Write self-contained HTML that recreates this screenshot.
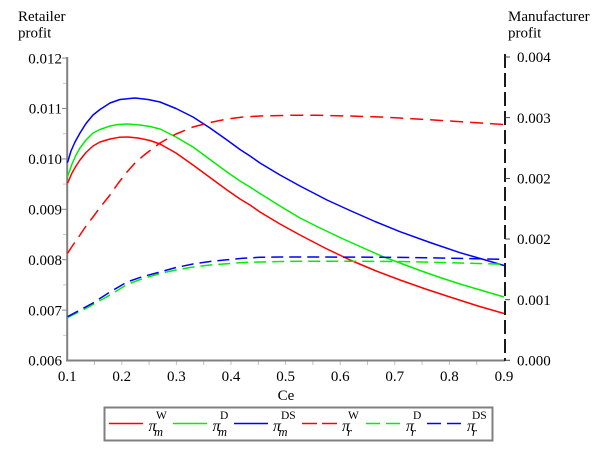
<!DOCTYPE html>
<html>
<head>
<meta charset="utf-8">
<style>
  html,body{margin:0;padding:0;background:#fff;}
  svg{display:block;}
  text{font-family:"Liberation Serif","DejaVu Serif",serif;fill:#000;}
</style>
</head>
<body>
<svg width="600" height="450" viewBox="0 0 600 450" xmlns="http://www.w3.org/2000/svg">
  <rect x="0" y="0" width="600" height="450" fill="#fff"/>

  <!-- axis titles -->
  <text x="18" y="21" font-size="15">Retailer</text>
  <text x="18" y="37.5" font-size="15">profit</text>
  <text x="508" y="21" font-size="15">Manufacturer</text>
  <text x="508" y="37.5" font-size="15">profit</text>

  <!-- left axis minor ticks -->
  <g stroke="#c8c8c8" stroke-width="1">
    <line x1="63" y1="83.3" x2="67" y2="83.3"/>
    <line x1="63" y1="133.7" x2="67" y2="133.7"/>
    <line x1="63" y1="184.1" x2="67" y2="184.1"/>
    <line x1="63" y1="234.5" x2="67" y2="234.5"/>
    <line x1="63" y1="284.9" x2="67" y2="284.9"/>
    <line x1="63" y1="335.3" x2="67" y2="335.3"/>
  </g>
  <!-- left axis major ticks -->
  <g stroke="#8a8a8a" stroke-width="1">
    <line x1="62" y1="58.1" x2="67" y2="58.1"/>
    <line x1="62" y1="108.5" x2="67" y2="108.5"/>
    <line x1="62" y1="158.9" x2="67" y2="158.9"/>
    <line x1="62" y1="209.3" x2="67" y2="209.3"/>
    <line x1="62" y1="259.7" x2="67" y2="259.7"/>
    <line x1="62" y1="310.1" x2="67" y2="310.1"/>
  </g>
  <!-- bottom ticks -->
  <g stroke="#c0c0c0" stroke-width="1">
    <line x1="94.5" y1="361" x2="94.5" y2="365"/>
    <line x1="121.8" y1="361" x2="121.8" y2="365"/>
    <line x1="149.1" y1="361" x2="149.1" y2="365"/>
    <line x1="176.4" y1="361" x2="176.4" y2="365"/>
    <line x1="203.7" y1="361" x2="203.7" y2="365"/>
    <line x1="231" y1="361" x2="231" y2="365"/>
    <line x1="258.3" y1="361" x2="258.3" y2="365"/>
    <line x1="285.6" y1="361" x2="285.6" y2="365"/>
    <line x1="312.9" y1="361" x2="312.9" y2="365"/>
    <line x1="340.2" y1="361" x2="340.2" y2="365"/>
    <line x1="367.5" y1="361" x2="367.5" y2="365"/>
    <line x1="394.8" y1="361" x2="394.8" y2="365"/>
    <line x1="422.1" y1="361" x2="422.1" y2="365"/>
    <line x1="449.4" y1="361" x2="449.4" y2="365"/>
    <line x1="476.7" y1="361" x2="476.7" y2="365"/>
  </g>

  <!-- left & bottom axes -->
  <line x1="67.2" y1="57" x2="67.2" y2="361.5" stroke="#808080" stroke-width="2"/>
  <line x1="66.2" y1="360.5" x2="505" y2="360.5" stroke="#808080" stroke-width="2"/>

  <!-- right axis -->
  <line x1="505" y1="54" x2="505" y2="361" stroke="#1a1a1a" stroke-width="2" stroke-dasharray="14 5"/>
  <g stroke="#444" stroke-width="1">
    <line x1="505" y1="57" x2="510" y2="57"/>
    <line x1="505" y1="117.6" x2="510" y2="117.6"/>
    <line x1="505" y1="178.5" x2="510" y2="178.5"/>
    <line x1="505" y1="239" x2="510" y2="239"/>
    <line x1="505" y1="299.7" x2="510" y2="299.7"/>
    <line x1="505" y1="360.3" x2="510" y2="360.3"/>
  </g>

  <!-- left tick labels -->
  <g font-size="15" text-anchor="end">
    <text x="62" y="63.3">0.012</text>
    <text x="62" y="113.7">0.011</text>
    <text x="62" y="164.1">0.010</text>
    <text x="62" y="214.5">0.009</text>
    <text x="62" y="264.9">0.008</text>
    <text x="62" y="315.3">0.007</text>
    <text x="62" y="365.7">0.006</text>
  </g>
  <!-- right tick labels -->
  <g font-size="15">
    <text x="517" y="62.2">0.004</text>
    <text x="517" y="122.8">0.003</text>
    <text x="517" y="183.6">0.002</text>
    <text x="517" y="244.2">0.002</text>
    <text x="517" y="304.9">0.001</text>
    <text x="517" y="365.5">0.000</text>
  </g>
  <!-- x tick labels -->
  <g font-size="15" text-anchor="middle">
    <text x="67.2" y="381">0.1</text>
    <text x="121.8" y="381">0.2</text>
    <text x="176.4" y="381">0.3</text>
    <text x="231" y="381">0.4</text>
    <text x="285.6" y="381">0.5</text>
    <text x="340.2" y="381">0.6</text>
    <text x="394.8" y="381">0.7</text>
    <text x="449.4" y="381">0.8</text>
    <text x="504" y="381">0.9</text>
    <text x="286" y="400">Ce</text>
  </g>

  <!-- curves -->
  <g fill="none" stroke-width="1.5" stroke-linejoin="round" stroke-linecap="butt">
    <!-- pi_m^W red solid -->
    <polyline stroke="#ff0000" points="67.5,183.3 72,173 76,166 80,160 86,152.5 93,146 100,142 110,139 119,137.3 128,137 138,138 150,140.5 160,144 176,153 193,165 210,177.5 227,190 240,199 250,205 260,212 280,224 300,235 325,248 350,260 375,270.5 400,280 427,289.5 453,298 478,306 504,313.5"/>
    <!-- pi_m^D green solid -->
    <polyline stroke="#00ee00" points="67.5,176.7 72,164 76,155 80,148 86,140 93,133 100,129.5 110,126 118,124.5 127,124 140,125 150,126.5 160,129 176,137 193,147 210,159.5 227,172 240,181 250,187 260,193.5 280,206 300,218 320,228 340,237.5 360,246.5 383,256.7 400,263 420,270.5 440,277.5 460,284 482,290.5 504,297"/>
    <!-- pi_m^DS blue solid -->
    <polyline stroke="#0000ff" points="67.5,162.7 71,151 75,142 80,133 86,123.5 93,115 100,109.5 110,103 120,99.5 135,98 148,99.5 160,102 176,108.5 193,117 210,128 227,140 240,149.5 250,156 260,163 280,175 300,186 327,200 350,210.5 375,221.5 400,231.7 430,242.5 460,252.7 482,259 504,265.5"/>
    <!-- pi_r^W red dashed -->
    <polyline stroke="#ff0000" stroke-dasharray="13 7" points="67.5,253.3 73,245 80,235 86,226 93,217 100,207.5 110,195 118,183.5 127,172 135,163 143,156 150,150.5 160,143 176,134 193,127 210,122.5 227,119 243,117 260,116 290,115.3 317,115.3 350,116 380,117 400,118 425,119.5 450,121 477,122.8 504,124.5"/>
    <!-- pi_r^D green dashed -->
    <polyline stroke="#00ee00" stroke-dasharray="12 6" points="67.5,317.5 80,311.5 93,304.5 110,295 127,284.5 143,278.5 160,273.5 176,270 193,267 210,265 227,263.7 243,262.5 260,262 280,261.5 300,261.3 350,261.2 400,261.5 430,262.2 460,263 482,263.6 504,264.2"/>
    <!-- pi_r^DS blue dashed -->
    <polyline stroke="#0000ff" stroke-dasharray="12 6" points="67.5,316.7 80,310 93,303 110,292 127,282 143,276.5 160,272 176,267.5 193,264 210,261.5 227,259.8 243,258.3 260,257.3 280,257 300,257 350,257.1 400,257.4 430,257.8 460,258.4 482,258.9 504,259.4"/>
  </g>

  <!-- legend -->
  <rect x="104.5" y="407.5" width="388" height="33" fill="#fff" stroke="#808080" stroke-width="2"/>
  <g stroke-width="1.5" fill="none">
    <line x1="109" y1="423.5" x2="143" y2="423.5" stroke="#ff0000"/>
    <line x1="173" y1="423.5" x2="207" y2="423.5" stroke="#00ee00"/>
    <line x1="234" y1="423.5" x2="268" y2="423.5" stroke="#0000ff"/>
    <line x1="302" y1="423.5" x2="317" y2="423.5" stroke="#ff0000"/>
    <line x1="322" y1="423.5" x2="337" y2="423.5" stroke="#ff0000"/>
    <line x1="366" y1="423.5" x2="380" y2="423.5" stroke="#00ee00"/>
    <line x1="386" y1="423.5" x2="400" y2="423.5" stroke="#00ee00"/>
    <line x1="427" y1="423.5" x2="441" y2="423.5" stroke="#0000ff"/>
    <line x1="447" y1="423.5" x2="461" y2="423.5" stroke="#0000ff"/>
  </g>
  <g>
    <text x="148.5" y="431" font-size="16" font-style="italic">π</text>
    <text x="154" y="436" font-size="12.5" font-style="italic">m</text>
    <text x="156" y="419" font-size="11.5">W</text>

    <text x="212.5" y="431" font-size="16" font-style="italic">π</text>
    <text x="218" y="436" font-size="12.5" font-style="italic">m</text>
    <text x="220" y="419" font-size="11.5">D</text>

    <text x="273" y="431" font-size="16" font-style="italic">π</text>
    <text x="278.5" y="436" font-size="12.5" font-style="italic">m</text>
    <text x="281" y="419" font-size="11.5">DS</text>

    <text x="342" y="431" font-size="16" font-style="italic">π</text>
    <text x="347" y="436" font-size="12.5" font-style="italic">r</text>
    <text x="348" y="419" font-size="11.5">W</text>

    <text x="406" y="431" font-size="16" font-style="italic">π</text>
    <text x="411" y="436" font-size="12.5" font-style="italic">r</text>
    <text x="413" y="419" font-size="11.5">D</text>

    <text x="467" y="431" font-size="16" font-style="italic">π</text>
    <text x="472" y="436" font-size="12.5" font-style="italic">r</text>
    <text x="472" y="419" font-size="11.5">DS</text>
  </g>
</svg>
</body>
</html>
